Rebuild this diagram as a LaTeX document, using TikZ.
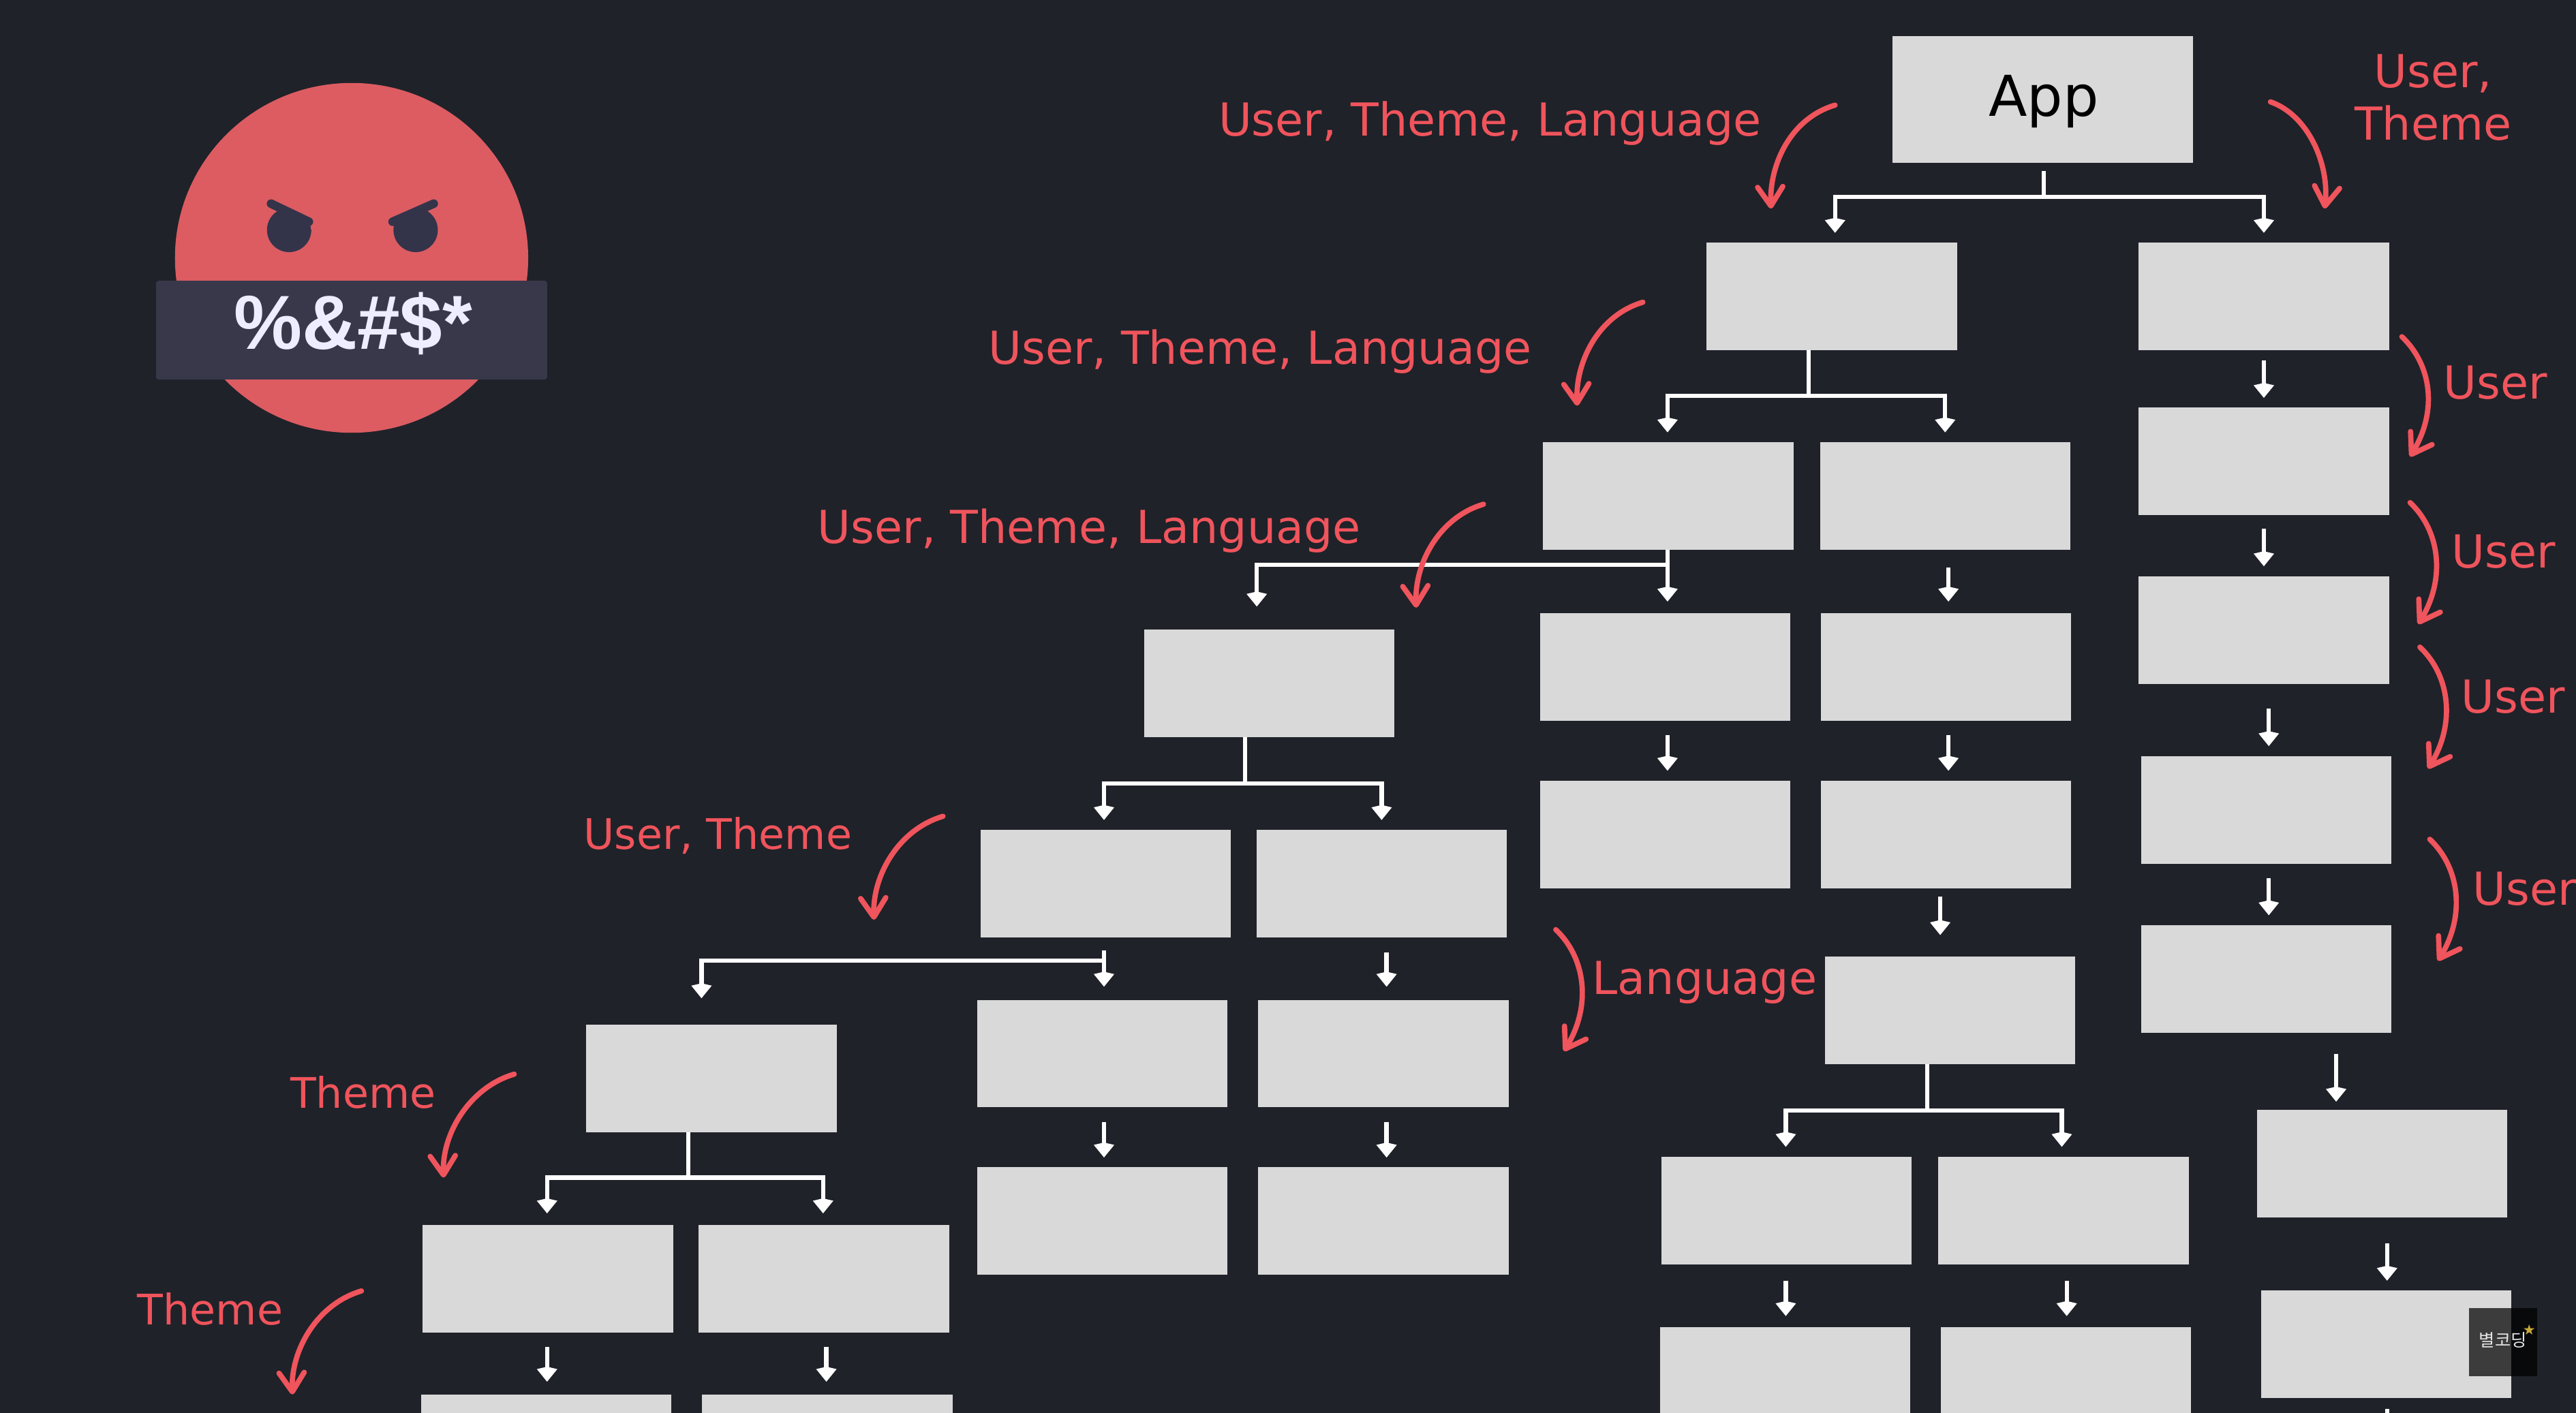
\documentclass[tikz,border=0pt]{standalone}
\usepackage{fontspec}
\setmainfont{DejaVu Sans}
\newfontfamily\facefont{Liberation Sans}
\newfontfamily\cjk{Noto Sans CJK KR}
\usetikzlibrary{arrows.meta,calc}
\definecolor{bgc}{HTML}{1F2229}
\definecolor{boxc}{HTML}{D9D9DA}
\definecolor{redc}{HTML}{F0545C}
\definecolor{facec}{HTML}{DC5C62}
\definecolor{bandc}{HTML}{38384A}
\definecolor{eyec}{HTML}{33344A}
\definecolor{goldc}{HTML}{C9A93A}
\tikzset{
  x=0.024107cm,y=-0.024107cm,
  box/.style={fill=boxc,draw=none,inner sep=0,outer sep=0,minimum width=3.675cm,minimum height=1.58cm},
  flow/.style={white,line width=1.8pt,-{Kite[length=0.22cm,width=0.3cm,inset=0.035cm]}},
  trunk/.style={white,line width=1.8pt},
  curve/.style={redc,line width=2.2pt,line cap=round,-{Straight Barb[length=0.28cm,width=0.37cm,line width=2.2pt,round]}},
  lab/.style={text=redc,font=\fontsize{19}{22}\selectfont,inner sep=0,align=center},
  labs/.style={text=redc,font=\fontsize{17.6}{21}\selectfont,inner sep=0,align=center},
}
% drop: from node, to node, x, gap at start, gap at end (picture units)
\newcommand\drop[5]{\draw[flow,shorten <=#4*0.683pt,shorten >=#5*0.683pt] (#3,0 |- #1.south) -- (#3,0 |- #2.north);}
% fork: source, trunk x, bar y, name of the junction
\newcommand\fork[4]{\coordinate (#4) at (#2,#3);\draw[trunk] (#2,0 |- #1.south) -- (#4);}
\newcommand\branch[4]{\draw[flow,shorten >=#4*0.683pt] (#1) -| (#3,0 |- #2.north);}
\begin{document}
\begin{tikzpicture}
\useasboundingbox (0,0) rectangle (1568,860.3);
\clip (0,0) rectangle (1568,860.3);
\fill[bgc] (0,0) rectangle (1568,860.3);

% face
\fill[facec] (214,157) ellipse [x radius=107.5,y radius=106.5];
\begin{scope}
  \clip (150,123) -- (165,121) -- (188,133) -- (195,165) -- (150,165) -- cycle;
  \fill[eyec] (176,140) circle (13.5);
\end{scope}
\begin{scope}
  \clip (278,123) -- (264,121) -- (239,133) -- (232,165) -- (278,165) -- cycle;
  \fill[eyec] (253,140) circle (13.5);
\end{scope}
\draw[eyec,line width=3.6pt,line cap=round] (165,124) coordinate (browA) -- (188,135) coordinate (browB);
\draw[eyec,line width=3.6pt,line cap=round] (264,124) coordinate (browC) -- (239,135) coordinate (browD);
\fill[bandc,rounded corners=1pt] (95,171) rectangle (333,231);
\node[text=white!93!blue,font=\facefont\bfseries\fontsize{32}{32}\selectfont,inner sep=0] (curse) at (215,197) {\%\&\#\$*};

% boxes
\node[box,minimum width=4.41cm,minimum height=1.86cm] (app) at (1243.5,60.5) {};
\node[font=\fontsize{23.5}{28}\selectfont,text=black,inner sep=0] (apptext) at (1244,62) {App};
\node[box] (a) at (1115,180.5) {};
\node[box] (b) at (1378,180.5) {};
\node[box] (c) at (1015.5,302) {};
\node[box] (d) at (1184,302) {};
\node[box] (r1) at (1378,281) {};
\node[box] (r2) at (1378,383.5) {};
\node[box] (r3) at (1379.5,493) {};
\node[box] (r4) at (1379.5,596) {};
\node[box] (r5) at (1450,708.5) {};
\node[box] (r6) at (1452.5,818.5) {};
\node[box] (m1) at (1013.5,406) {};
\node[box] (m2) at (1184.5,406) {};
\node[box] (m3) at (1013.5,508) {};
\node[box] (m4) at (1184.5,508) {};
\node[box] (m5) at (1187,615) {};
\node[box] (n1) at (1087.5,737) {};
\node[box] (n2) at (1256,737) {};
\node[box] (n3) at (1086.5,841) {};
\node[box] (n4) at (1257.5,841) {};
\node[box] (e) at (772.5,416) {};
\node[box] (f) at (673,538) {};
\node[box] (g) at (841,538) {};
\node[box] (f1) at (671,641.5) {};
\node[box] (g1) at (842,641.5) {};
\node[box] (f2) at (671,743.5) {};
\node[box] (g2) at (842,743.5) {};
\node[box] (h) at (433,656.5) {};
\node[box] (i) at (333.5,778.5) {};
\node[box] (j) at (501.5,778.5) {};
\node[box] (i1) at (332.5,882) {};
\node[box] (j1) at (503.5,882) {};
\coordinate (offpage) at (1452.5,900);

% white connectors
\draw[trunk] (1244,0 |- app.south) ++(0,5) -- (1244,120) coordinate (jA);
\branch{jA}{a}{1117}{6}
\branch{jA}{b}{1378}{6}
\fork{a}{1101}{241}{jB}
\branch{jB}{c}{1015}{6}
\branch{jB}{d}{1184}{6}
\draw[trunk] (1015,0 |- c.south) -- (1015,344) coordinate (jC);
\branch{jC}{e}{765}{14}
\drop{c}{m1}{1015}{0}{7}
\drop{d}{m2}{1186}{11}{7}
\drop{m1}{m3}{1015}{9}{6}
\drop{m2}{m4}{1186}{9}{6}
\drop{m4}{m5}{1181}{5}{13}
\fork{m5}{1173}{676}{jD}
\branch{jD}{n1}{1087}{6}
\branch{jD}{n2}{1255}{6}
\drop{n1}{n3}{1087}{10}{7}
\drop{n2}{n4}{1258}{10}{7}
\fork{e}{758}{477}{jE}
\branch{jE}{f}{672}{6}
\branch{jE}{g}{841}{6}
\coordinate (jF) at (672,585);
\draw[flow,shorten <=8*0.683pt,shorten >=8*0.683pt] (672,0 |- f.south) -- (672,0 |- f1.north);
\branch{jF}{h}{427}{16}
\drop{g}{g1}{844}{9}{8}
\drop{f1}{f2}{672}{9}{6}
\drop{g1}{g2}{844}{9}{6}
\fork{h}{419}{717}{jG}
\branch{jG}{i}{333}{7}
\branch{jG}{j}{501}{7}
\drop{i}{i1}{333}{9}{8}
\drop{j}{j1}{503}{9}{8}
\drop{b}{r1}{1378}{6}{6}
\drop{r1}{r2}{1378}{8}{6}
\drop{r2}{r3}{1381}{15}{6}
\drop{r3}{r4}{1381}{9}{6}
\drop{r4}{r5}{1422}{13}{5}
\drop{r5}{r6}{1453}{16}{6}
\draw[trunk] (1453,858) coordinate (rEnd) -- (offpage -| rEnd);

% red arrows
\draw[curve] (1117,64) .. controls (1090,72) and (1077,100) .. (1078,127);
\draw[curve] (1382,62) .. controls (1405,70) and (1418,100) .. (1415,127);
\draw[curve] (1000,184) .. controls (973,192) and (959,220) .. (960,247);
\draw[curve] (903,307) .. controls (876,315) and (861,343) .. (862,370);
\draw[curve] (574,497) .. controls (547,505) and (531,533) .. (532,560);
\draw[curve] (313,654) .. controls (286,662) and (269,690) .. (270,717);
\draw[curve] (220,786) .. controls (193,794) and (177,822) .. (178,849);
\draw[curve] (1462,205) .. controls (1480,222) and (1484,250) .. (1467,278);
\draw[curve] (1467,306) .. controls (1485,323) and (1489,352) .. (1472,380);
\draw[curve] (1473,394) .. controls (1491,411) and (1495,440) .. (1478,468);
\draw[curve] (1479,511) .. controls (1497,528) and (1501,557) .. (1484,585);
\draw[curve] (947,566) .. controls (965,583) and (969,612) .. (952,640);

% red labels
\node[lab] (l1) at (907,75) {User, Theme, Language};
\node[lab] (l2) at (767,214) {User, Theme, Language};
\node[lab] (l3) at (663,323) {User, Theme, Language};
\node[lab] (l4) at (1481,59.5) {User,\\Theme};
\node[lab,anchor=west] (l5) at (1487,233) {User};
\node[lab,anchor=west] (l6) at (1492,336) {User};
\node[lab,anchor=west] (l7) at (1498,424) {User};
\node[lab,anchor=west] (l8) at (1505,541) {User};
\node[lab,anchor=west] (l9) at (969,598) {Language};
\node[labs] (l10) at (437,509) {User, Theme};
\node[labs] (l11) at (221,665) {Theme};
\node[labs] (l12) at (128,797) {Theme};

% watermark
\fill[black,fill opacity=0.72] (1503,796.5) rectangle (1544.5,838);
\node[text=white!90!black,font=\cjk\fontsize{7.2}{8}\selectfont,inner sep=0] (mark) at (1523.5,816) {별코딩};
\node[text=goldc,font=\fontsize{6}{6}\selectfont,inner sep=0] (markstar) at (1539.5,809.5) {★};
\end{tikzpicture}
\end{document}
